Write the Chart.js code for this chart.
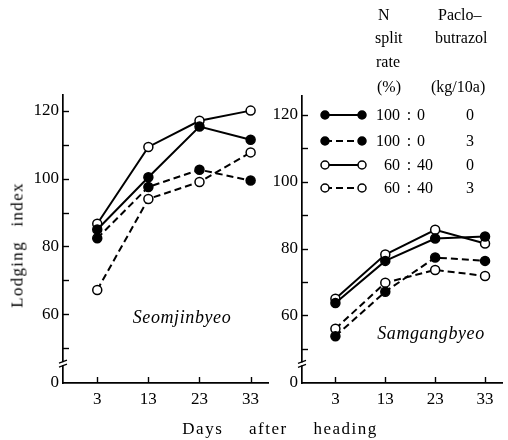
<!DOCTYPE html>
<html><head><meta charset="utf-8">
<script src="https://cdn.jsdelivr.net/npm/chart.js@4.4.1/dist/chart.umd.min.js"></script>
<style>
html,body{margin:0;padding:0;background:#fff;}
#wrap{position:relative;width:508px;height:440px;overflow:hidden;font-family:"Liberation Serif","DejaVu Serif",serif;color:#000;}
canvas{position:absolute;left:0;top:0;}
.t{position:absolute;font-size:16px;line-height:1;white-space:nowrap;}
.c{transform:translate(-50%,-50%);}
.l{transform:translate(0,-50%);}
.r{transform:translate(-100%,-50%);}
</style></head><body>
<div id="wrap">
<canvas id="c1" width="508" height="440" style="width:508px;height:440px"></canvas>
<canvas id="c2" width="508" height="440" style="width:508px;height:440px"></canvas>

<div class="t c" style="left:17px;top:245px;font-size:17px;letter-spacing:1.3px;word-spacing:9px;transform:translate(-50%,-50%) rotate(-90deg);">Lodging index</div>
<div class="t c" style="left:280px;top:428px;font-size:17px;letter-spacing:1.5px;word-spacing:20px;">Days after heading</div>
<div class="t c" style="left:182px;top:317px;font-size:18px;font-style:italic;letter-spacing:0.6px;">Seomjinbyeo</div>
<div class="t c" style="left:431px;top:333px;font-size:18px;font-style:italic;letter-spacing:0.6px;">Samgangbyeo</div>

<div class="t l" style="left:378px;top:15px;">N</div>
<div class="t l" style="left:375px;top:38px;">split</div>
<div class="t l" style="left:376px;top:62px;">rate</div>
<div class="t l" style="left:377px;top:87px;">(%)</div>
<div class="t l" style="left:438px;top:15px;">Paclo–</div>
<div class="t l" style="left:435px;top:38px;">butrazol</div>
<div class="t l" style="left:431px;top:87px;">(kg/10a)</div>
<div id="legtext"></div>
</div>
<script>
// ---- data ----
const days = [3, 13, 23, 33];
const seomjin_100_0_p0 = [85.0, 100.4, 115.3, 111.4];
const seomjin_100_0_p3 = [82.4, 97.5, 102.6, 99.4];
const seomjin_60_40_p0 = [86.7, 109.3, 117.0, 120.0];
const seomjin_60_40_p3 = [67.2, 94.0, 99.0, 107.7];
const samgang_100_0_p0 = [63.7, 76.3, 83.0, 83.6];
const samgang_100_0_p3 = [53.8, 67.1, 77.3, 76.3];
const samgang_60_40_p0 = [65.0, 78.2, 85.6, 81.5];
const samgang_60_40_p3 = [56.0, 69.8, 73.6, 71.8];
const splitLabels = [["100", "0"], ["100", "0"], ["60", "40"], ["60", "40"]];
const pacloLabels = ["0", "3", "0", "3"];
const xTickValues = [3, 13, 23, 33];
const yTickValues = [50, 60, 70, 80, 90, 100, 110, 120];
const yTickLabels = ["", "60", "", "80", "", "100", "", "120"];
const yZeroLabel = "0";
const Y_BOTTOM = 39.8;   // axis bottom (broken axis, shown as 0)
const Y_BREAK = 45.5;

const INK = '#000';
const FONT = {family: '"Liberation Serif","DejaVu Serif",serif', size: 17};

function series(vals) { return vals.map((v, i) => ({x: days[i], y: v})); }
const styles = [
  {filled: true, dash: []},
  {filled: true, dash: [7, 4]},
  {filled: false, dash: []},
  {filled: false, dash: [7, 4]},
];
function ds(vals, k) {
  const s = styles[k];
  return {
    data: series(vals),
    borderColor: INK, borderWidth: 2, borderDash: s.dash,
    pointRadius: 4.5, pointHoverRadius: 4.5, pointBorderWidth: 1.5,
    pointBorderColor: INK, pointBackgroundColor: s.filled ? INK : '#fff',
    tension: 0, fill: false
  };
}

const axisPlugin = {
  id: 'axisDeco',
  beforeDatasetsDraw(chart) {
    const {ctx, chartArea: a, scales: {x, y}} = chart;
    ctx.save();
    ctx.strokeStyle = INK; ctx.lineWidth = 1.4;
    yTickValues.forEach(v => {
      const py = Math.round(y.getPixelForValue(v)) + 0.5;
      ctx.beginPath(); ctx.moveTo(a.left, py); ctx.lineTo(a.left + 6, py); ctx.stroke();
    });
    xTickValues.forEach(v => {
      const px = Math.round(x.getPixelForValue(v)) + 0.5;
      ctx.beginPath(); ctx.moveTo(px, a.bottom); ctx.lineTo(px, a.bottom - 6); ctx.stroke();
    });
    const by = y.getPixelForValue(Y_BREAK);
    ctx.fillStyle = '#fff';
    ctx.fillRect(a.left - 3, by - 1.5, 6, 3);
    ctx.lineWidth = 1.2;
    ctx.beginPath(); ctx.moveTo(a.left - 4, by - 0.5); ctx.lineTo(a.left + 4, by - 3.5); ctx.stroke();
    ctx.beginPath(); ctx.moveTo(a.left - 4, by + 3.5); ctx.lineTo(a.left + 4, by + 0.5); ctx.stroke();
    ctx.restore();
  }
};

const legendPlugin = {
  id: 'legendDeco',
  afterDatasetsDraw(chart) {
    const {ctx} = chart;
    const rows = [115, 141, 165, 188];
    ctx.save();
    chart.data.datasets.forEach((d, i) => {
      const y = rows[i], x1 = 325, x2 = 362;
      ctx.strokeStyle = INK; ctx.lineWidth = 2; ctx.setLineDash(d.borderDash);
      ctx.beginPath(); ctx.moveTo(x1, y); ctx.lineTo(x2, y); ctx.stroke();
      ctx.setLineDash([]);
      [x1, x2].forEach(px => {
        ctx.beginPath(); ctx.arc(px, y, 4, 0, Math.PI * 2);
        ctx.fillStyle = d.pointBackgroundColor; ctx.fill();
        ctx.lineWidth = 1.5; ctx.strokeStyle = INK; ctx.stroke();
      });
    });
    ctx.restore();
  }
};

function makeChart(id, sets, padLeft, padRight, yMax, padTop) {
  return new Chart(document.getElementById(id), {
    type: 'line',
    data: {datasets: sets},
    plugins: [axisPlugin].concat(id === 'c2' ? [legendPlugin] : []),
    options: {
      responsive: false, animation: false,
      layout: {padding: {left: padLeft, right: padRight, top: padTop, bottom: 12}},
      plugins: {legend: {display: false}, tooltip: {enabled: false}},
      scales: {
        x: {
          type: 'linear', min: -3.7, max: 36.4,
          afterBuildTicks: s => { s.ticks = xTickValues.map(v => ({value: v})); },
          afterFit: s => { s.height = 45; },
          ticks: {font: FONT, color: INK, padding: 6, callback: v => String(v)},
          grid: {display: true, drawOnChartArea: false, drawTicks: false, color: 'rgba(0,0,0,0)'},
          border: {display: true, color: INK, width: 1.7}
        },
        y: {
          type: 'linear', min: Y_BOTTOM, max: yMax,
          afterBuildTicks: s => { s.ticks = [{value: Y_BOTTOM}].concat(yTickValues.map(v => ({value: v}))); },
          afterFit: s => { s.width = 40; },
          ticks: {font: FONT, color: INK, padding: 4,
            callback: (v, i) => i === 0 ? yZeroLabel : yTickLabels[i - 1]},
          grid: {display: true, drawOnChartArea: false, drawTicks: false, color: 'rgba(0,0,0,0)'},
          border: {display: true, color: INK, width: 1.7}
        }
      }
    }
  });
}

makeChart('c1', [
  ds(seomjin_100_0_p0, 0), ds(seomjin_100_0_p3, 1),
  ds(seomjin_60_40_p0, 2), ds(seomjin_60_40_p3, 3)
], 23, 240, 124.6, 95);
makeChart('c2', [
  ds(samgang_100_0_p0, 0), ds(samgang_100_0_p3, 1),
  ds(samgang_60_40_p0, 2), ds(samgang_60_40_p3, 3)
], 262, 3, 125.6, 96);

// legend texts as HTML
const rowsY = [115, 141, 165, 188];
const lt = document.getElementById('legtext');
splitLabels.forEach((p, i) => {
  lt.insertAdjacentHTML('beforeend',
    `<div class="t r" style="left:400px;top:${rowsY[i]}px;">${p[0]}</div>` +
    `<div class="t c" style="left:409px;top:${rowsY[i]}px;">:</div>` +
    `<div class="t l" style="left:417px;top:${rowsY[i]}px;">${p[1]}</div>` +
    `<div class="t c" style="left:470px;top:${rowsY[i]}px;">${pacloLabels[i]}</div>`);
});
</script>
</body></html>
